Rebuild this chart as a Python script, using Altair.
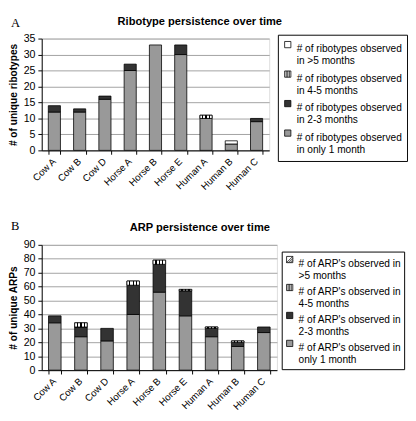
import altair as alt
import pandas as pd

cats = ["Cow A", "Cow B", "Cow D", "Horse A", "Horse B", "Horse E", "Human A", "Human B", "Human C"]
groups = [">5", "4-5", "2-3", "1"]          # legend order, top to bottom
stack_order = {"1": 0, "2-3": 1, "4-5": 2, ">5": 3}

# Panel A: ribotypes
ribo_1 = [12, 12, 16, 25, 33, 30, 10, 2, 9]
ribo_23 = [2, 1, 1, 2, 0, 3, 0, 0, 1]
ribo_45 = [0, 0, 0, 0, 0, 0, 1, 0, 0]
ribo_gt5 = [0, 0, 0, 0, 0, 0, 0, 1, 0]

# Panel B: ARPs
arp_1 = [34, 24, 21, 40, 56, 39, 24, 17, 27]
arp_23 = [5, 7, 9, 21, 20, 18, 6, 3, 4]
arp_45 = [0, 3, 0, 3, 3, 1, 1, 1, 0]
arp_gt5 = [0, 0, 0, 0, 0, 0, 0, 0, 0]

ribo_labels = {
    ">5": ["# of ribotypes observed", "in >5 months"],
    "4-5": ["# of ribotypes observed", "in 4-5 months"],
    "2-3": ["# of ribotypes observed", "in 2-3 months"],
    "1": ["# of ribotypes observed", "in only 1 month"],
}
arp_labels = {
    ">5": ["# of ARP's observed in", ">5 months"],
    "4-5": ["# of ARP's observed in", "4-5 months"],
    "2-3": ["# of ARP's observed in", "2-3 months"],
    "1": ["# of ARP's observed in", "only 1 month"],
}


def long_df(v1, v23, v45, vgt5):
    rows = []
    for grp, vals in (("1", v1), ("2-3", v23), ("4-5", v45), (">5", vgt5)):
        for c, v in zip(cats, vals):
            rows.append({"cat": c, "grp": grp, "val": v, "ord": stack_order[grp]})
    return pd.DataFrame(rows)


def label_expr(d):
    parts = []
    for k, (a, b) in d.items():
        parts.append("'%s': ['%s', '%s']" % (k, a.replace("'", "\\'"), b.replace("'", "\\'")))
    return "{" + ", ".join(parts) + "}[datum.value]"


# stripe gradient for the 4-5 month segments
stops = []
n = 4
wa, wb = 0.17, (1 - 4 * 0.17) / 3
pos = 0.0
for i in range(n):
    stops.append(alt.GradientStop(color="white", offset=round(pos, 4)))
    pos += wa
    stops.append(alt.GradientStop(color="white", offset=round(pos, 4)))
    if i < n - 1:
        stops.append(alt.GradientStop(color="black", offset=round(pos, 4)))
        pos += wb
        stops.append(alt.GradientStop(color="black", offset=round(pos, 4)))
stripe = alt.Gradient(gradient="linear", stops=stops, x1=0, x2=1, y1=0, y2=0)

FONT = "Liberation Sans"
shape_45 = "M-1,-1H1V1H-1Z M-0.5,-1V1 M0,-1V1 M0.5,-1V1"
shape_gt5_b = "M-1,-1H1V1H-1Z M-1,1L1,-1 M-0.33,1L1,-0.33 M0.33,1L1,0.33"


def panel(df, title, letter, ytitle, ymax, ystep, labels, w, h, legx, legy, legfont, rowpad,
          legpad, gt5shape, title_y, letter_y):
    base = alt.Chart(df).transform_filter("datum.val > 0").transform_stack(
        stack="val", groupby=["cat"], as_=["y0", "y1"],
        sort=[alt.SortField(field="ord", order="ascending")])
    x = alt.X("cat:N", sort=cats, title=None,
              scale=alt.Scale(paddingInner=0.52, paddingOuter=0.26),
              axis=alt.Axis(labelAngle=315, labelFontSize=10, labelFont=FONT, labelColor="black",
                            tickBand="extent", tickColor="black", domainColor="black", tickSize=4,
                            labelPadding=2, labelOffset=-4))
    y = alt.Y("y0:Q", title=ytitle,
              scale=alt.Scale(domain=[0, ymax], nice=False),
              axis=alt.Axis(values=list(range(0, ymax + 1, ystep)), labelFontSize=11, labelFont=FONT,
                            labelColor="black", titleFont=FONT, titleFontSize=10.5,
                            titleFontWeight="bold", titleColor="black", titlePadding=5,
                            gridColor="#a0a0a0", domainColor="black", tickColor="black",
                            tickSize=4, labelPadding=3))
    legend = alt.Legend(
        title=None, orient="none", legendX=legx, legendY=legy,
        labelExpr=label_expr(labels), labelFont=FONT, labelFontSize=legfont, labelColor="black",
        labelLimit=200, symbolSize=42, symbolStrokeColor="black",
        symbolStrokeWidth=0.8, strokeColor="black", fillColor="white", padding=legpad,
        rowPadding=rowpad, labelOffset=4, labelBaseline="top")
    color = alt.Color("grp:N", scale=alt.Scale(domain=groups,
                                               range=["white", "white", "#333333", "#999999"]),
                      legend=legend)
    shape = alt.Shape("grp:N", scale=alt.Scale(domain=groups,
                                               range=[gt5shape, shape_45, "square", "square"]),
                      legend=legend)
    bars = base.mark_bar(stroke="black", strokeWidth=0.8).encode(
        x=x, y=y, y2="y1:Q", color=color)
    stripes = base.transform_filter("datum.grp == '4-5'").mark_bar(
        stroke="black", strokeWidth=0.8, fill=stripe).encode(x=x, y=y, y2="y1:Q")
    keys = base.transform_filter("false").mark_point(filled=True, stroke="black", strokeWidth=0.8,
                                                     opacity=1).encode(
        x=x, y=y, color=color, shape=shape)
    let = alt.Chart(pd.DataFrame({"t": [letter]})).mark_text(
        font="Liberation Serif", fontSize=13, align="left", baseline="top",
        color="black").encode(text="t:N", x=alt.value(-32), y=alt.value(letter_y))
    ttl = alt.Chart(pd.DataFrame({"t": [title]})).mark_text(
        font=FONT, fontSize=11.5, fontWeight="bold", align="center", baseline="alphabetic",
        color="black").encode(text="t:N", x=alt.value(164), y=alt.value(title_y))
    return alt.layer(bars, stripes, keys, let, ttl).properties(width=w, height=h)


chartA = panel(long_df(ribo_1, ribo_23, ribo_45, ribo_gt5), "Ribotype persistence over time", "A",
               "# of unique ribotypes", 35, 5, ribo_labels, 236, 116, 245, -4, 10.5, 1.6, 5,
               "square", -14, -22)
chartB = panel(long_df(arp_1, arp_23, arp_45, arp_gt5), "ARP persistence over time", "B",
               "# of unique ARPs", 90, 10, arp_labels, 244, 130, 249, 7, 10.5, 0, 3,
               shape_gt5_b, -14, -25)

chart = alt.vconcat(chartA, chartB, spacing=28).resolve_scale(
    color="independent", shape="independent").resolve_legend(
    color="independent", shape="independent").configure_view(stroke="#8c8c8c").configure(
    padding=0, background="white")

chart.save("out.html", embed_options={"renderer": "svg", "actions": False})
